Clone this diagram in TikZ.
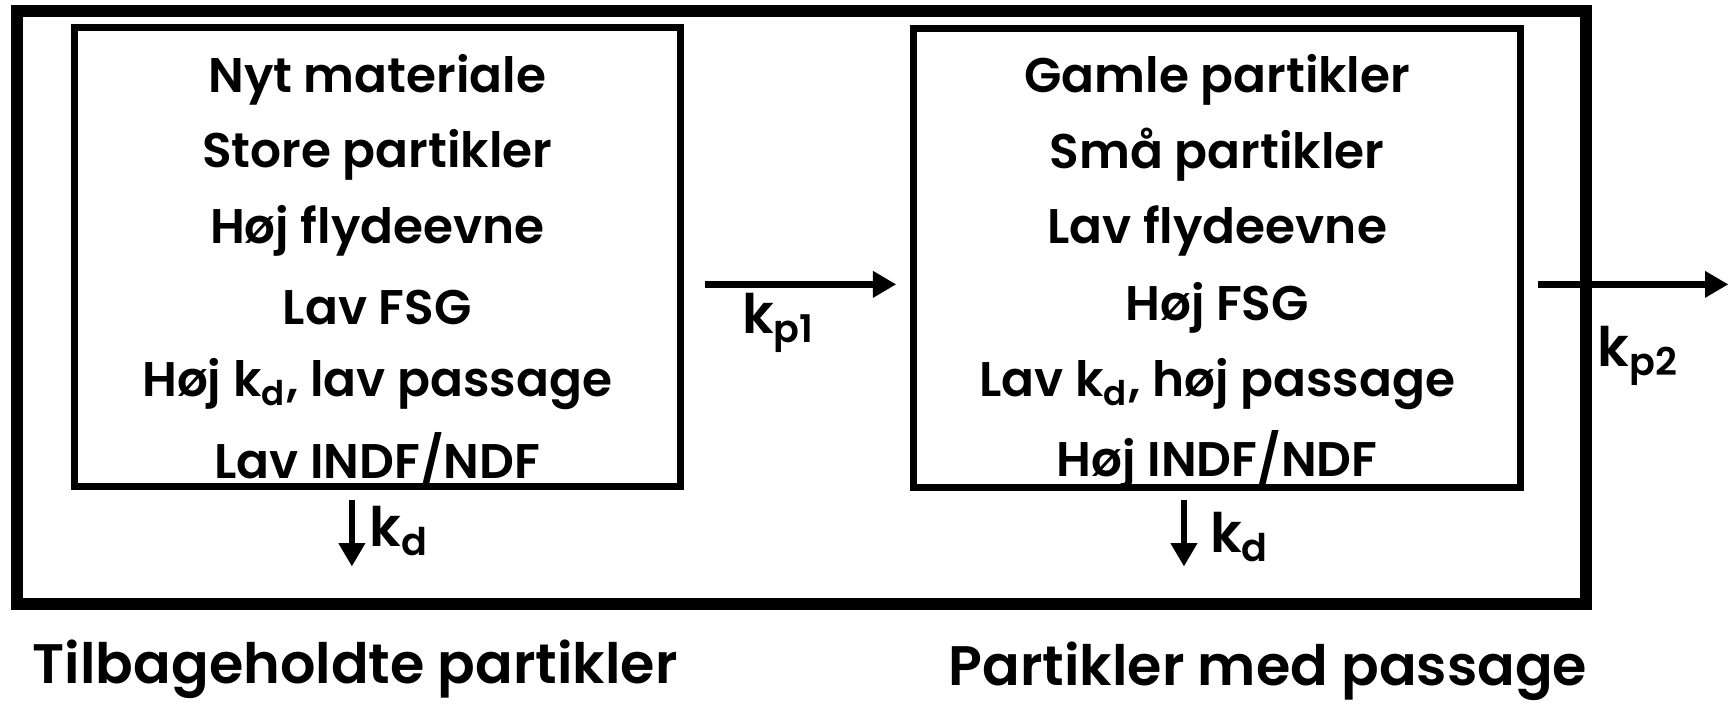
\documentclass[tikz,border=0pt]{standalone}
\usepackage{fontspec}
\setmainfont{Poppins}[BoldFont={Poppins SemiBold}]
\usetikzlibrary{arrows.meta}

\tikzset{
  frame/.style={draw, line width=3.1pt, inner sep=0pt},
  listbox/.style={draw, line width=1.8pt, inner sep=0pt,
    minimum width=54.8mm, minimum height=41.5mm},
  rate/.style={-{Triangle[length=6pt,width=6.5pt]}, line width=1.7pt},
  item/.style={font=\bfseries\fontsize{12.5}{15}\selectfont, inner sep=0pt},
  ratelabel/.style={font=\bfseries\fontsize{14}{16}\selectfont, inner sep=0pt},
  caption/.style={font=\bfseries\fontsize{14.3}{17}\selectfont, inner sep=0pt},
}

\begin{document}
\begin{tikzpicture}[x=0.1mm, y=-0.1mm]
    \useasboundingbox (0,0) rectangle (1568,640);

    % Outer frame and the two particle pools
    \node[frame, minimum width=141.8mm, minimum height=53.6mm] (pool) at (724, 278) {};
    \node[listbox] (retained) at (341, 232) {};
    \node[listbox] (passed) at (1100, 233) {};

    % Retained particles
    \node[item] (r1) at (341, 72) {Nyt materiale};
    \node[item] (r2) at (341, 140) {Store partikler};
    \node[item] (r3) at (341, 209) {Høj flydeevne};
    \node[item] (r4) at (341, 278) {Lav FSG};
    \node[item] (r5) at (341, 347) {Høj k\textsubscript{d}, lav passage};
    \node[item] (r6) at (341, 416) {Lav INDF/NDF};

    % Particles with passage
    \node[item] (s1) at (1100, 72) {Gamle partikler};
    \node[item] (s2) at (1100, 140) {Små partikler};
    \node[item] (s3) at (1100, 209) {Lav flydeevne};
    \node[item] (s4) at (1100, 278) {Høj FSG};
    \node[item] (s5) at (1100, 347) {Lav k\textsubscript{d}, høj passage};
    \node[item] (s6) at (1100, 416) {Høj INDF/NDF};

    % Passage rates
    \coordinate (p1a) at (637, 257);
    \coordinate (p1b) at (810, 257);
    \coordinate (p2a) at (1390, 257);
    \coordinate (p2b) at (1562, 257);
    \draw[rate] (p1a) -- (p1b);
    \draw[rate] (p2a) -- (p2b);
    \node[ratelabel, anchor=west] (kp1) at (670, 292) {k\textsubscript{p1}};
    \node[ratelabel, anchor=west] (kp2) at (1443, 322) {k\textsubscript{p2}};

    % Degradation
    \coordinate (d1a) at (318, 452);
    \coordinate (d1b) at (318, 512);
    \coordinate (d2a) at (1070, 452);
    \coordinate (d2b) at (1070, 512);
    \draw[rate] (d1a) -- (d1b);
    \draw[rate] (d2a) -- (d2b);
    \node[ratelabel, anchor=west] (kd1) at (333, 480) {k\textsubscript{d}};
    \node[ratelabel, anchor=west] (kd2) at (1093, 485) {k\textsubscript{d}};

    % Captions
    \node[caption] (cap1) at (321, 605) {Tilbageholdte partikler};
    \node[caption] (cap2) at (1146, 607) {Partikler med passage};
\end{tikzpicture}
\end{document}
